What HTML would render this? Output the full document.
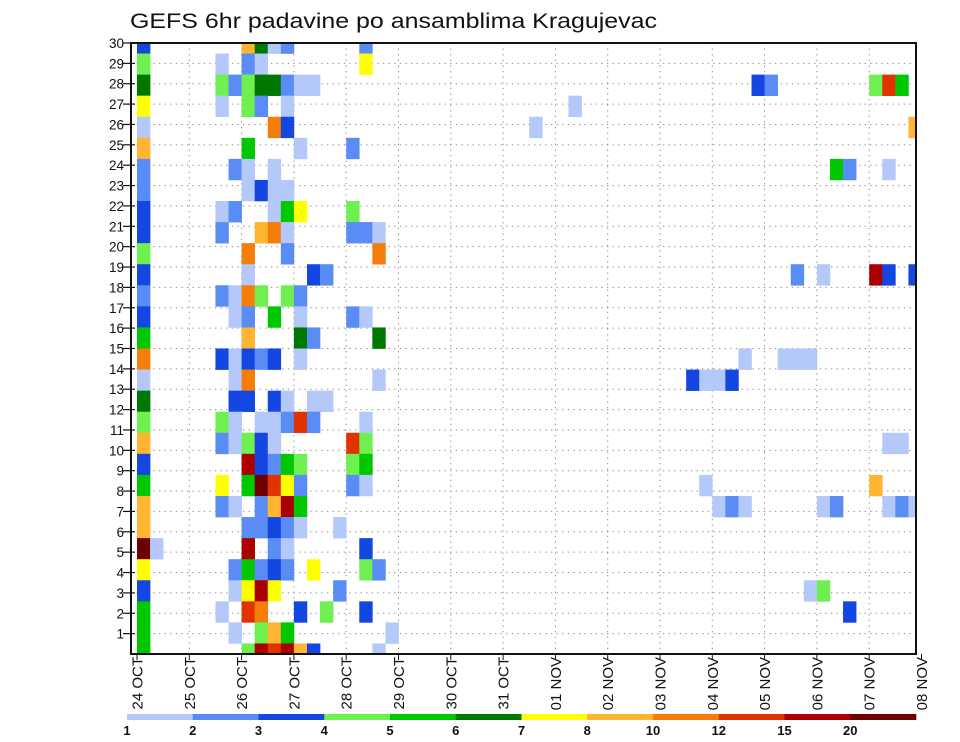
<!DOCTYPE html>
<html><head><meta charset="utf-8"><title>GEFS 6hr padavine</title>
<style>html,body{margin:0;padding:0;background:#fff;}svg{display:block;font-family:"Liberation Sans",sans-serif;}</style>
</head><body>
<svg id="chart" width="960" height="742" viewBox="0 0 960 742" xmlns="http://www.w3.org/2000/svg">
<text x="130" y="28" font-size="21.5" textLength="527" lengthAdjust="spacingAndGlyphs" fill="#111">GEFS 6hr padavine po ansamblima Kragujevac</text>
<defs><clipPath id="plotClip"><rect x="132" y="43" width="784" height="611"/></clipPath></defs>
<g id="grid"></g>
<g id="cells" clip-path="url(#plotClip)"></g>
<g id="axes"></g>
<g id="legend"></g>
</svg>
<script>
// ---- data ----
const dayLabels = ["24 OCT","25 OCT","26 OCT","27 OCT","28 OCT","29 OCT","30 OCT","31 OCT","01 NOV","02 NOV","03 NOV","04 NOV","05 NOV","06 NOV","07 NOV","08 NOV"];
const memberTicks = [1,2,3,4,5,6,7,8,9,10,11,12,13,14,15,16,17,18,19,20,21,22,23,24,25,26,27,28,29,30];
const levelLabels = ["1","2","3","4","5","6","7","8","10","12","15","20"];
const levelBounds = [1,2,3,4,5,6,7,8,10,12,15,20];
const levelColors = ["#b4c8fa","#5a8cf5","#1446e1","#6ef050","#00c800","#007800","#ffff00","#ffb432","#f57d0a","#e13200","#aa0000","#6e0000"];
// [member, 6h-step, precip mm]
const precip = [
[30,0,3.5],[30,8,9],[30,9,6.5],[30,10,1.5],[30,11,2.5],[30,17,2.5],
[29,0,4.5],[29,6,1.5],[29,8,2.5],[29,9,1.5],[29,17,7.5],
[28,0,6.5],[28,6,4.5],[28,7,2.5],[28,8,4.5],[28,9,6.5],[28,10,6.5],[28,11,2.5],[28,12,1.5],[28,13,1.5],[28,47,3.5],[28,48,2.5],[28,56,4.5],[28,57,13],[28,58,5.5],
[27,0,7.5],[27,6,1.5],[27,8,4.5],[27,9,2.5],[27,11,1.5],[27,33,1.5],
[26,0,1.5],[26,10,11],[26,11,3.5],[26,30,1.5],[26,59,9],
[25,0,9],[25,8,5.5],[25,12,1.5],[25,16,2.5],
[24,0,2.5],[24,7,2.5],[24,8,1.5],[24,10,1.5],[24,53,5.5],[24,54,2.5],[24,57,1.5],
[23,0,2.5],[23,8,1.5],[23,9,3.5],[23,10,1.5],[23,11,1.5],
[22,0,3.5],[22,6,1.5],[22,7,2.5],[22,10,1.5],[22,11,5.5],[22,12,7.5],[22,16,4.5],
[21,0,3.5],[21,6,2.5],[21,9,9],[21,10,11],[21,11,1.5],[21,16,2.5],[21,17,2.5],[21,18,1.5],
[20,0,4.5],[20,8,11],[20,11,2.5],[20,18,11],
[19,0,3.5],[19,8,1.5],[19,13,3.5],[19,14,2.5],[19,50,2.5],[19,52,1.5],[19,56,17],[19,57,3.5],[19,59,3.5],
[18,0,2.5],[18,6,2.5],[18,7,1.5],[18,8,11],[18,9,4.5],[18,11,4.5],[18,12,2.5],
[17,0,3.5],[17,7,1.5],[17,8,2.5],[17,10,5.5],[17,12,1.5],[17,16,2.5],[17,17,1.5],
[16,0,5.5],[16,8,9],[16,12,6.5],[16,13,2.5],[16,18,6.5],
[15,0,11],[15,6,3.5],[15,7,1.5],[15,8,3.5],[15,9,2.5],[15,10,3.5],[15,12,1.5],[15,46,1.5],[15,49,1.5],[15,50,1.5],[15,51,1.5],
[14,0,1.5],[14,7,1.5],[14,8,11],[14,18,1.5],[14,42,3.5],[14,43,1.5],[14,44,1.5],[14,45,3.5],
[13,0,6.5],[13,7,3.5],[13,8,3.5],[13,10,3.5],[13,11,1.5],[13,13,1.5],[13,14,1.5],
[12,0,4.5],[12,6,4.5],[12,7,1.5],[12,9,1.5],[12,10,1.5],[12,11,2.5],[12,12,13],[12,13,2.5],[12,17,1.5],
[11,0,9],[11,6,2.5],[11,7,1.5],[11,8,4.5],[11,9,3.5],[11,10,1.5],[11,16,13],[11,17,4.5],[11,57,1.5],[11,58,1.5],
[10,0,3.5],[10,8,17],[10,9,3.5],[10,10,2.5],[10,11,5.5],[10,12,4.5],[10,16,4.5],[10,17,5.5],
[9,0,5.5],[9,6,7.5],[9,8,5.5],[9,9,22],[9,10,13],[9,11,7.5],[9,12,2.5],[9,16,2.5],[9,17,1.5],[9,43,1.5],[9,56,9],
[8,0,9],[8,6,2.5],[8,7,1.5],[8,9,2.5],[8,10,9],[8,11,17],[8,12,5.5],[8,44,1.5],[8,45,2.5],[8,46,1.5],[8,52,1.5],[8,53,2.5],[8,57,1.5],[8,58,2.5],[8,59,1.5],
[7,0,9],[7,8,2.5],[7,9,2.5],[7,10,3.5],[7,11,2.5],[7,12,1.5],[7,15,1.5],
[6,0,22],[6,1,1.5],[6,8,17],[6,10,2.5],[6,11,1.5],[6,17,3.5],
[5,0,7.5],[5,7,2.5],[5,8,5.5],[5,9,2.5],[5,10,3.5],[5,11,2.5],[5,13,7.5],[5,17,4.5],[5,18,2.5],
[4,0,3.5],[4,7,1.5],[4,8,7.5],[4,9,17],[4,10,7.5],[4,15,2.5],[4,51,1.5],[4,52,4.5],
[3,0,5.5],[3,6,1.5],[3,8,13],[3,9,11],[3,12,3.5],[3,14,4.5],[3,17,3.5],[3,54,3.5],
[2,0,5.5],[2,7,1.5],[2,9,4.5],[2,10,9],[2,11,5.5],[2,19,1.5],
[1,0,5.5],[1,8,4.5],[1,9,17],[1,10,13],[1,11,17],[1,12,9],[1,13,3.5],[1,18,1.5]
];

// ---- scales ----
const X0 = 137, DAY = 52.3, STEP = DAY/4;
const TOP = 43, BOT = 654, LEFT = 131, RIGHT = 916;
const CELL_H = (BOT-TOP)/29;
function xStep(k){ return X0 + k*STEP; }
function xDay(d){ return X0 + d*DAY; }
function yMember(m){ return TOP + (30-m)*CELL_H; }
function yTick(r){ return BOT - r*(BOT-TOP)/30; }
function colorFor(v){ let c = levelColors[0]; for(let i=0;i<levelBounds.length;i++){ if(v>=levelBounds[i]) c = levelColors[i]; } return c; }

const NS = "http://www.w3.org/2000/svg";
function mk(tag, attrs, parent){ const e=document.createElementNS(NS,tag); for(const k in attrs) e.setAttribute(k,attrs[k]); parent.appendChild(e); return e; }

const grid = document.getElementById('grid');
const cells = document.getElementById('cells');
const axes = document.getElementById('axes');
const legend = document.getElementById('legend');

memberTicks.forEach(function(r){
  if(r>=30) return;
  const l = mk('line',{x1:LEFT,x2:RIGHT,y1:yTick(r),y2:yTick(r),stroke:'#8a8a8a','stroke-width':1,'stroke-dasharray':'1.3,4.3'},grid);
  
  
});
dayLabels.forEach(function(d,i){
  if(i===0||i===dayLabels.length-1) return;
  const l = mk('line',{x1:xDay(i),x2:xDay(i),y1:TOP,y2:BOT,stroke:'#8a8a8a','stroke-width':1,'stroke-dasharray':'1.3,4.3'},grid);
  
  
});

precip.forEach(function(p){
  const m=p[0], k=p[1], v=p[2];
  const r = mk('rect',{x:xStep(k),y:yMember(m)-CELL_H/2,width:STEP+0.3,height:CELL_H+0.3,fill:colorFor(v)},cells);
  
  
});

const fr = mk('rect',{x:LEFT,y:TOP,width:RIGHT-LEFT,height:BOT-TOP,fill:'none',stroke:'#111','stroke-width':2},axes);



memberTicks.forEach(function(r){
  const y = yTick(r);
  const t = mk('line',{x1:123,x2:135,y1:y,y2:y,stroke:'#111','stroke-width':1.2},axes);
  
  
  const tx = mk('text',{x:124,y:y+5,'text-anchor':'end','font-size':13.5,fill:'#111'},axes);
  tx.textContent = r;
  
  
});

dayLabels.forEach(function(d,i){
  const x = xDay(i);
  const t = mk('line',{x1:x,x2:x,y1:BOT,y2:BOT+6,stroke:'#111','stroke-width':1},axes);
  
  
  const tx = mk('text',{x:0,y:0,'text-anchor':'end','font-size':15,fill:'#111',transform:'translate('+(x+5.5)+','+(BOT+3)+') rotate(-90)'},axes);
  tx.textContent = d;
  
  
});

const LX0 = 127, LX1 = 916, LW = (LX1-LX0)/levelColors.length;
levelColors.forEach(function(c,i){
  const r = mk('rect',{x:LX0+i*LW,y:714,width:LW+0.3,height:6,fill:c},legend);
  
  
});
levelLabels.forEach(function(s,i){
  const tx = mk('text',{x:LX0+i*LW,y:735,'text-anchor':'middle','font-size':13,'font-weight':'bold',fill:'#111'},legend);
  tx.textContent = s;
  
  
});
</script>
</body></html>
